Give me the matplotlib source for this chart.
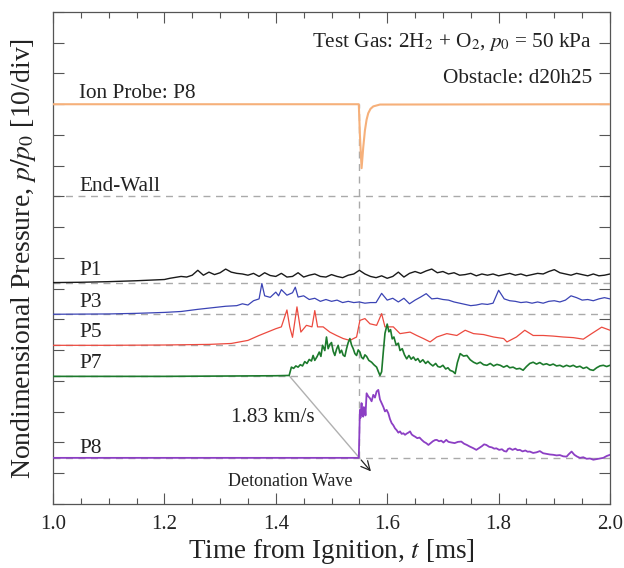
import numpy as np
import matplotlib
matplotlib.use("Agg")
import matplotlib.pyplot as plt

plt.rcParams['font.family'] = ['Liberation Serif', 'DejaVu Serif']
plt.rcParams['mathtext.fontset'] = 'stix'

# pressure rise above initial (p/p0), as (t [ms], p/p0)
p1 = [(1.00, 0.2), (1.05, 0.3), (1.10, 0.5), (1.15, 0.8), (1.20, 1.2), (1.21, 1.6), (1.22, 1.9),
      (1.23, 2.2), (1.24, 2.0), (1.25, 2.6), (1.26, 4.2), (1.27, 2.6), (1.28, 3.6), (1.29, 2.8),
      (1.30, 3.4), (1.31, 4.6), (1.32, 3.6), (1.33, 3.2), (1.34, 3.0), (1.35, 2.6), (1.36, 3.2),
      (1.37, 2.2), (1.38, 3.4), (1.39, 2.5), (1.40, 2.2), (1.41, 3.2), (1.42, 2.0), (1.43, 2.2),
      (1.44, 3.4), (1.45, 2.0), (1.46, 2.6), (1.47, 3.0), (1.48, 2.2), (1.49, 2.0), (1.50, 2.8),
      (1.51, 2.2), (1.52, 1.8), (1.53, 2.6), (1.54, 3.0), (1.55, 4.2), (1.56, 3.0), (1.57, 2.2),
      (1.58, 1.8), (1.59, 2.4), (1.60, 1.6), (1.61, 2.2), (1.62, 3.6), (1.63, 2.0), (1.64, 3.2),
      (1.65, 3.8), (1.66, 3.2), (1.67, 4.0), (1.68, 4.6), (1.69, 3.4), (1.70, 3.8), (1.71, 3.0),
      (1.72, 3.4), (1.73, 2.6), (1.74, 2.8), (1.75, 3.2), (1.76, 2.4), (1.77, 3.0), (1.78, 2.6),
      (1.79, 3.0), (1.80, 2.4), (1.81, 2.8), (1.82, 3.2), (1.83, 2.6), (1.84, 3.0), (1.85, 2.4),
      (1.86, 2.8), (1.87, 3.2), (1.88, 3.0), (1.89, 3.8), (1.90, 4.4), (1.91, 3.4), (1.92, 3.0),
      (1.93, 2.6), (1.94, 3.2), (1.95, 2.8), (1.96, 2.4), (1.97, 3.0), (1.98, 2.4), (1.99, 2.6),
      (2.00, 3.0)]

p3 = [(1.00, 0.0), (1.10, 0.1), (1.15, 0.3), (1.20, 0.6), (1.23, 0.9), (1.26, 1.6), (1.29, 2.2),
      (1.31, 2.6), (1.33, 2.8), (1.34, 3.4), (1.35, 3.0), (1.36, 4.4), (1.37, 5.0), (1.375, 10.0),
      (1.38, 6.0), (1.39, 5.5), (1.40, 7.2), (1.405, 6.0), (1.41, 8.0), (1.42, 6.2), (1.43, 7.0),
      (1.435, 8.8), (1.44, 5.6), (1.45, 6.0), (1.46, 4.8), (1.47, 5.2), (1.48, 4.2), (1.49, 4.8),
      (1.50, 4.2), (1.51, 4.6), (1.52, 3.8), (1.53, 4.2), (1.54, 3.8), (1.55, 4.0), (1.56, 3.6),
      (1.57, 3.8), (1.58, 3.8), (1.59, 6.8), (1.60, 4.6), (1.61, 5.2), (1.62, 4.0), (1.63, 5.2),
      (1.64, 3.4), (1.65, 4.6), (1.66, 5.6), (1.67, 6.7), (1.68, 5.0), (1.69, 5.2), (1.70, 4.8),
      (1.71, 4.6), (1.72, 4.0), (1.73, 3.6), (1.74, 3.2), (1.75, 2.8), (1.76, 3.0), (1.77, 3.4),
      (1.78, 3.2), (1.79, 3.6), (1.80, 7.8), (1.81, 5.0), (1.82, 4.4), (1.83, 4.2), (1.84, 3.8),
      (1.85, 4.0), (1.86, 3.6), (1.87, 4.0), (1.88, 3.6), (1.89, 4.2), (1.90, 4.4), (1.91, 4.0),
      (1.92, 4.6), (1.93, 6.0), (1.94, 5.4), (1.95, 4.6), (1.96, 4.8), (1.97, 4.4), (1.98, 5.0),
      (1.99, 5.4), (2.00, 5.0)]

p5 = [(1.00, 0.0), (1.10, 0.0), (1.20, 0.1), (1.28, 0.3), (1.32, 0.6), (1.35, 1.6), (1.37, 3.2),
      (1.385, 4.3), (1.40, 5.4), (1.41, 6.0), (1.42, 11.5), (1.425, 6.0), (1.43, 2.6), (1.438, 12.5),
      (1.445, 4.3), (1.455, 6.5), (1.465, 6.0), (1.470, 11.3), (1.475, 6.0), (1.485, 6.0),
      (1.497, 4.3), (1.509, 3.2), (1.521, 2.2), (1.533, 1.6), (1.545, 2.7), (1.551, 8.1),
      (1.560, 8.7), (1.569, 7.0), (1.581, 6.5), (1.590, 10.3), (1.596, 6.0), (1.611, 6.0),
      (1.623, 3.8), (1.641, 4.3), (1.653, 3.2), (1.665, 2.2), (1.677, 1.1), (1.689, 2.7),
      (1.707, 3.8), (1.725, 3.2), (1.740, 4.9), (1.755, 3.8), (1.773, 3.5), (1.791, 2.7),
      (1.809, 2.2), (1.815, 1.1), (1.832, 2.7), (1.847, 4.9), (1.862, 3.2), (1.880, 3.2),
      (1.898, 3.0), (1.916, 2.7), (1.934, 2.5), (1.952, 2.0), (1.967, 3.8), (1.985, 5.9),
      (2.000, 4.9)]

p7 = [(1.00, 0.0), (1.20, 0.0), (1.40, 0.2), (1.424, 0.3), (1.428, 3.0), (1.432, 2.6), (1.436, 3.4),
      (1.440, 3.0), (1.444, 3.8), (1.448, 3.4), (1.452, 4.8), (1.456, 4.2), (1.460, 5.5),
      (1.464, 5.0), (1.467, 6.8), (1.470, 5.2), (1.474, 6.4), (1.478, 7.9), (1.481, 6.5),
      (1.484, 10.1), (1.488, 8.4), (1.491, 12.8), (1.494, 9.0), (1.497, 10.4), (1.500, 11.0),
      (1.503, 8.2), (1.506, 6.8), (1.509, 8.8), (1.512, 10.1), (1.515, 7.6), (1.518, 8.5),
      (1.521, 6.9), (1.524, 6.5), (1.527, 9.0), (1.530, 11.0), (1.533, 12.3), (1.536, 10.2),
      (1.539, 9.0), (1.542, 7.4), (1.545, 6.8), (1.548, 8.6), (1.551, 7.9), (1.554, 6.2),
      (1.557, 5.7), (1.560, 7.0), (1.563, 6.5), (1.567, 5.2), (1.572, 4.6), (1.576, 3.8),
      (1.581, 3.0), (1.584, 1.6), (1.587, 0.3), (1.590, 1.5), (1.593, 8.0), (1.596, 14.0),
      (1.600, 17.0), (1.603, 14.5), (1.606, 15.2), (1.609, 12.2), (1.612, 12.8), (1.616, 10.2),
      (1.620, 10.8), (1.623, 8.4), (1.627, 9.0), (1.631, 7.0), (1.635, 5.7), (1.639, 6.8),
      (1.643, 5.6), (1.647, 6.3), (1.651, 5.2), (1.655, 5.8), (1.659, 4.6), (1.664, 5.4),
      (1.669, 4.2), (1.673, 4.9), (1.677, 4.1), (1.682, 3.4), (1.687, 4.2), (1.691, 3.2),
      (1.695, 3.0), (1.700, 3.6), (1.705, 2.4), (1.709, 2.8), (1.713, 1.95), (1.718, 1.6),
      (1.722, 0.9), (1.726, 4.5), (1.731, 7.4), (1.737, 6.6), (1.743, 6.8), (1.749, 5.4),
      (1.755, 4.6), (1.761, 4.1), (1.767, 4.6), (1.773, 3.8), (1.779, 3.6), (1.785, 4.2),
      (1.791, 3.4), (1.797, 3.9), (1.803, 3.6), (1.809, 3.0), (1.815, 3.5), (1.820, 2.8),
      (1.826, 3.0), (1.832, 2.4), (1.838, 2.6), (1.844, 2.0), (1.850, 3.2), (1.856, 4.2),
      (1.862, 4.6), (1.868, 4.0), (1.874, 4.5), (1.880, 3.8), (1.886, 4.1), (1.892, 3.6),
      (1.898, 4.0), (1.904, 3.4), (1.910, 3.6), (1.916, 3.1), (1.922, 3.6), (1.928, 3.2),
      (1.934, 3.6), (1.940, 3.0), (1.946, 3.3), (1.952, 2.6), (1.958, 3.0), (1.964, 2.2),
      (1.970, 1.95), (1.976, 2.8), (1.982, 3.4), (1.988, 3.6), (1.994, 3.2), (2.000, 3.6)]

p8 = [(1.00, 0.0), (1.549, 0.0), (1.551, 15.6), (1.552, 13.0), (1.554, 17.8), (1.555, 14.0),
      (1.557, 13.4), (1.558, 16.5), (1.560, 16.1), (1.561, 13.8), (1.563, 21.0), (1.566, 20.0),
      (1.569, 19.4), (1.572, 18.4), (1.575, 20.5), (1.578, 19.6), (1.581, 21.6), (1.584, 22.1),
      (1.587, 19.0), (1.590, 17.8), (1.593, 16.6), (1.596, 15.1), (1.599, 15.6), (1.602, 14.5),
      (1.605, 12.6), (1.608, 11.3), (1.611, 10.6), (1.614, 9.6), (1.617, 9.0), (1.620, 8.2),
      (1.623, 8.6), (1.626, 7.8), (1.629, 8.0), (1.632, 7.5), (1.635, 7.9), (1.638, 8.2),
      (1.641, 8.6), (1.644, 7.6), (1.647, 7.2), (1.650, 6.9), (1.654, 6.4), (1.658, 6.6),
      (1.662, 5.85), (1.666, 5.2), (1.670, 4.8), (1.674, 4.2), (1.678, 4.8), (1.682, 5.4),
      (1.686, 5.8), (1.689, 5.85), (1.693, 5.4), (1.697, 5.6), (1.701, 5.0), (1.706, 5.85),
      (1.710, 5.2), (1.715, 5.0), (1.721, 4.8), (1.727, 5.2), (1.733, 5.3), (1.738, 4.6),
      (1.743, 4.2), (1.748, 3.7), (1.754, 3.2), (1.760, 2.6), (1.765, 3.2), (1.770, 3.8),
      (1.774, 4.4), (1.778, 4.2), (1.783, 3.6), (1.788, 3.4), (1.792, 3.0), (1.796, 3.1),
      (1.801, 2.6), (1.806, 2.8), (1.810, 2.2), (1.814, 2.05), (1.817, 2.9), (1.820, 3.1),
      (1.825, 2.6), (1.830, 3.0), (1.834, 2.5), (1.838, 2.6), (1.843, 2.1), (1.848, 2.4),
      (1.852, 2.0), (1.856, 2.05), (1.862, 1.6), (1.868, 1.8), (1.874, 2.2), (1.880, 1.5),
      (1.886, 1.3), (1.892, 1.1), (1.898, 1.0), (1.904, 0.8), (1.910, 0.9), (1.916, 0.5),
      (1.922, 0.4), (1.926, 1.2), (1.931, 2.05), (1.936, 1.0), (1.941, 0.4), (1.946, 0.0),
      (1.952, 0.2), (1.958, -0.3), (1.964, -0.2), (1.970, -0.6), (1.976, -0.4), (1.982, -0.2),
      (1.988, 0.0), (1.994, 0.6), (2.000, 1.0)]

# ion probe signal, in divisions relative to its trace level
ion = [(1.00, 0.0), (1.549, 0.0), (1.551, -1.0), (1.554, -2.08), (1.557, -1.4), (1.560, -0.85),
       (1.563, -0.5), (1.566, -0.29), (1.570, -0.15), (1.575, -0.07), (1.587, -0.01), (2.00, 0.0)]

# trace offsets in divisions (10 p/p0 per division)
levels = {'P1': 7.18, 'P3': 6.17, 'P5': 5.16, 'P7': 4.15, 'P8': 1.5}
endwall_level = 10.0
ion_level = 13.0
t_arrival_p7 = 1.425
t_arrival_p8 = 1.55

fig = plt.figure(figsize=(6.24, 5.68), dpi=100)
ax = fig.add_axes([0.0849, 0.1127, 0.8927, 0.8662])

grey = '#aaaaaa'
for lv in list(levels.values()) + [endwall_level]:
    ax.axhline(lv, color=grey, lw=1.0, ls=(0, (5, 4)), zorder=1)
ax.plot([t_arrival_p8, t_arrival_p8], [levels['P8'], ion_level], color=grey, lw=1.0,
        ls=(0, (5, 4)), zorder=1)

traces = [('P1', p1, '#1a1a1a', 1.0), ('P3', p3, '#3b44b5', 0.9), ('P5', p5, '#ec4a3f', 0.9),
          ('P7', p7, '#1c7a2c', 1.2), ('P8', p8, '#8c3fc4', 1.3)]
for name, data, col, lw in traces:
    t, p = np.array(data).T
    ax.plot(t, levels[name] + p / 10.0, color=col, lw=lw, zorder=3)

t, s = np.array(ion).T
ax.plot(t, ion_level + s, color='#f6b07a', lw=1.5, zorder=3)

# wave trajectory P7 -> P8 and arrow
ax.plot([t_arrival_p7, t_arrival_p8], [levels['P7'], levels['P8']], color='#b0b0b0', lw=1.0, zorder=2)
slope = (levels['P8'] - levels['P7']) / (t_arrival_p8 - t_arrival_p7)
t_end = t_arrival_p8 + 0.024
ax.annotate('', xy=(t_end, levels['P8'] + slope * 0.024), xytext=(t_arrival_p8, levels['P8']),
            arrowprops=dict(arrowstyle='->', color='#222222', lw=0.9, mutation_scale=16))

lab = dict(fontsize=15.3, va='baseline', ha='left', color='#222222')
ax.text(1.047, 13.2, 'Ion Probe: P8', **lab)
ax.text(1.047, 10.18, 'End-Wall', **lab)
ax.text(1.047, 7.45, 'P1', **lab)
ax.text(1.047, 6.42, 'P3', **lab)
ax.text(1.047, 5.42, 'P5', **lab)
ax.text(1.047, 4.41, 'P7', **lab)
ax.text(1.047, 1.65, 'P8', **lab)
ax.text(1.32, 2.68, '1.83 km/s', **lab)
ax.text(1.314, 0.585, 'Detonation Wave', fontsize=13, va='baseline', ha='left', color='#222222')
ax.text(1.968, 14.87, 'Test Gas: 2H$_2$ + O$_2$, $p_0$ = 50 kPa', fontsize=15.3, va='baseline',
        ha='right', color='#222222')
ax.text(1.968, 13.7, 'Obstacle: d20h25', fontsize=15.3, va='baseline', ha='right', color='#222222')

ax.set_xlim(1.0, 2.0)
ax.set_ylim(0, 16)
ax.set_xticks(np.arange(1.0, 2.01, 0.2))
ax.set_xticks(np.arange(1.0, 2.01, 0.05), minor=True)
ax.set_yticks(np.arange(0, 17, 1))
ax.set_yticklabels([])
ax.tick_params(which='both', direction='in', top=True, right=True, colors='#555555',
               labelcolor='#222222', labelsize=15)
ax.tick_params(which='major', length=8, width=0.8)
ax.tick_params(which='minor', length=4, width=0.8)
ax.tick_params(axis='x', pad=8)
for sp in ax.spines.values():
    sp.set_color('#555555')
    sp.set_linewidth(0.9)

ax.set_xlabel('Time from Ignition, $t$ [ms]', fontsize=19.5, color='#222222', labelpad=2)
ax.set_ylabel('Nondimensional Pressure, $p/p_0$ [10/div]', fontsize=20, color='#222222', labelpad=7)

fig.savefig('out.png', dpi=100)
